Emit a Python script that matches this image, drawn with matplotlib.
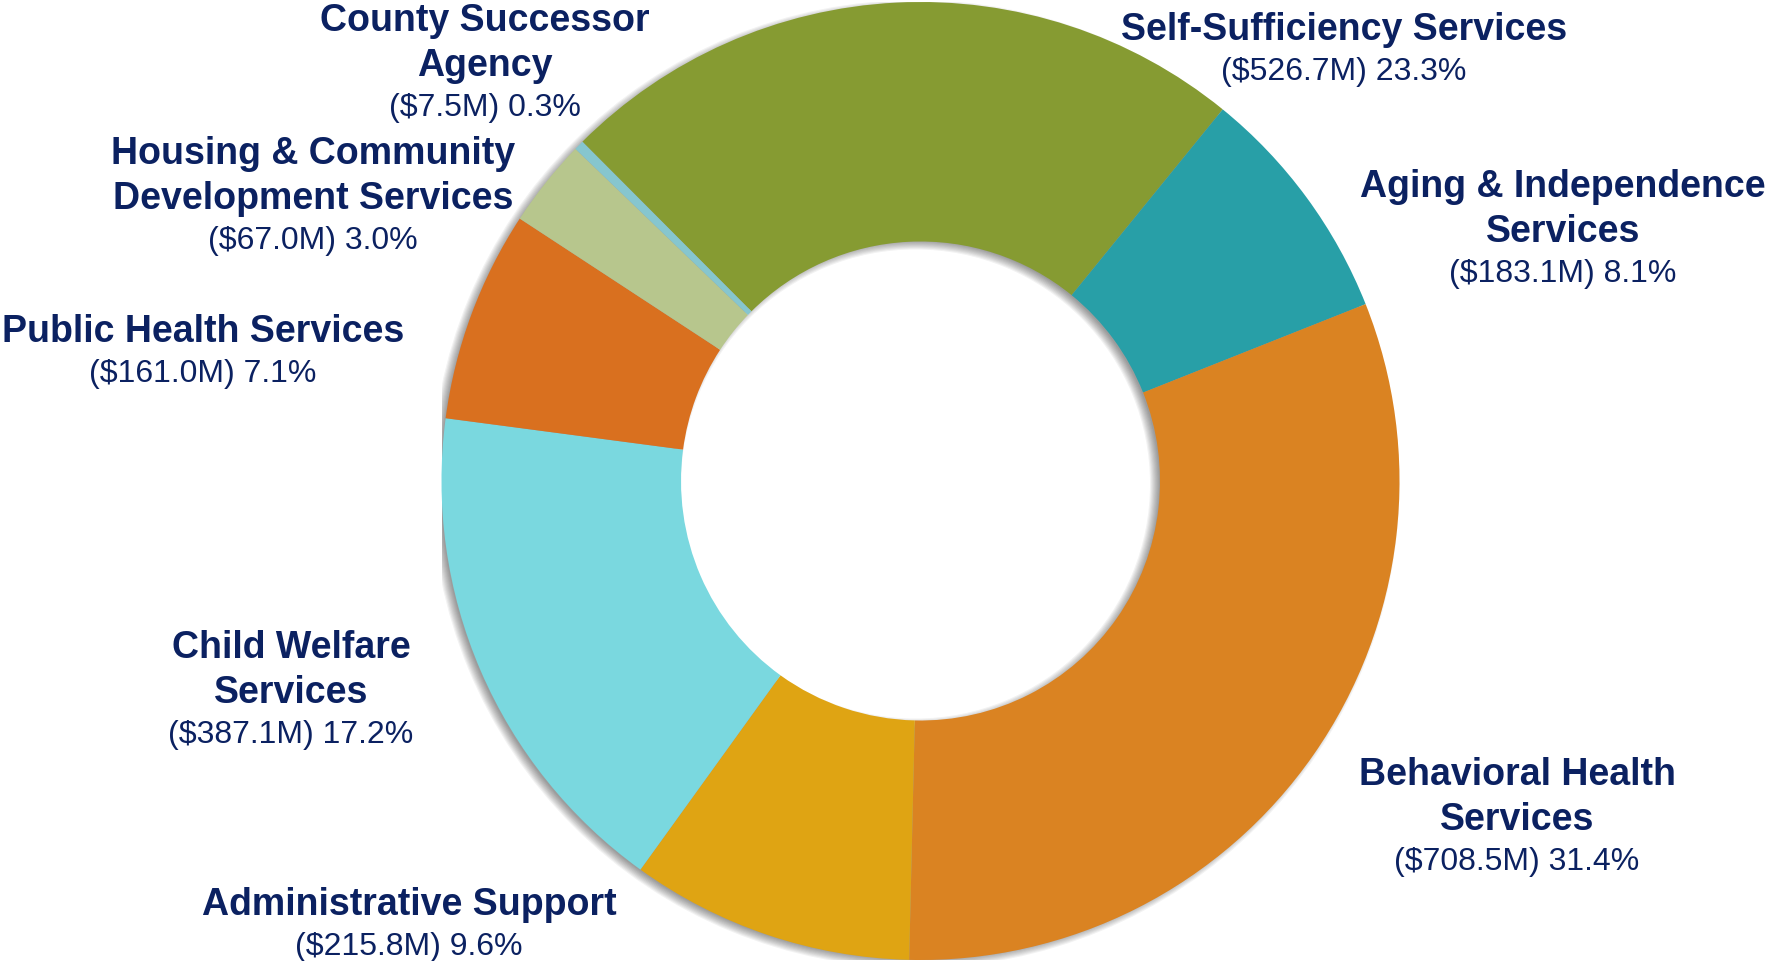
import matplotlib
matplotlib.use("Agg")
import matplotlib.pyplot as plt
import numpy as np
from matplotlib.patches import Wedge

# Gastos por area (milhoes de dolares), na ordem horaria a partir do topo
areas = [
    "Self-Sufficiency Services",
    "Aging & Independence\nServices",
    "Behavioral Health\nServices",
    "Administrative Support",
    "Child Welfare\nServices",
    "Public Health Services",
    "Housing & Community\nDevelopment Services",
    "County Successor\nAgency",
]
valores = [526.7, 183.1, 708.5, 215.8, 387.1, 161.0, 67.0, 7.5]
cores = ["#869B32", "#289FA7", "#DA8322", "#DFA413",
         "#7AD8DF", "#D9701F", "#B7C68D", "#86C6CE"]

# posicao (px) do centro de cada rotulo e da primeira linha
pos_rotulos = [(1344, 30), (1563, 187), (1517, 775), (409, 905),
               (291, 648), (203, 332), (313, 154), (485, 21)]

W, H = 1767, 961
AZUL = "#0B2161"
FONTE = ["Liberation Sans", "DejaVu Sans"]

fig = plt.figure(figsize=(W / 100, H / 100), dpi=100)
cx, cy, r = 920.5, 481, 479
ax = fig.add_axes([(cx - r) / W, (H - cy - r) / H, 2 * r / W, 2 * r / H])
ax.axis("off")

# sombra suave do anel, deslocada para baixo e para a esquerda
desloc = (-5 / r, -3 / r)
for e in np.linspace(-4 / r, 5 / r, 9):
    ax.add_patch(Wedge(desloc, 1.0 + e, 0, 360, width=0.5 + 2 * e,
                       facecolor="#000000", alpha=0.05,
                       edgecolor="none", zorder=0))

ax.pie(valores, colors=cores, startangle=134.9, counterclock=False,
       radius=1.0, wedgeprops=dict(width=0.5, edgecolor="none"))
ax.set_xlim(-1, 1)
ax.set_ylim(-1, 1)
ax.set_aspect("equal")

total = sum(valores)
passo_negrito, passo_valor = 45, 42
for nome, valor, (x, y) in zip(areas, valores, pos_rotulos):
    linhas = nome.split("\n")
    for k, texto in enumerate(linhas):
        fig.text(x / W, 1 - (y + k * passo_negrito) / H, texto,
                 ha="center", va="center", fontsize=27, fontweight="bold",
                 color=AZUL, family=FONTE)
    yv = y + (len(linhas) - 1) * passo_negrito + passo_valor
    fig.text(x / W, 1 - yv / H, f"(${valor:.1f}M) {100 * valor / total:.1f}%",
             ha="center", va="center", fontsize=23, color=AZUL, family=FONTE)

fig.savefig("out.png", dpi=100, facecolor="white")
